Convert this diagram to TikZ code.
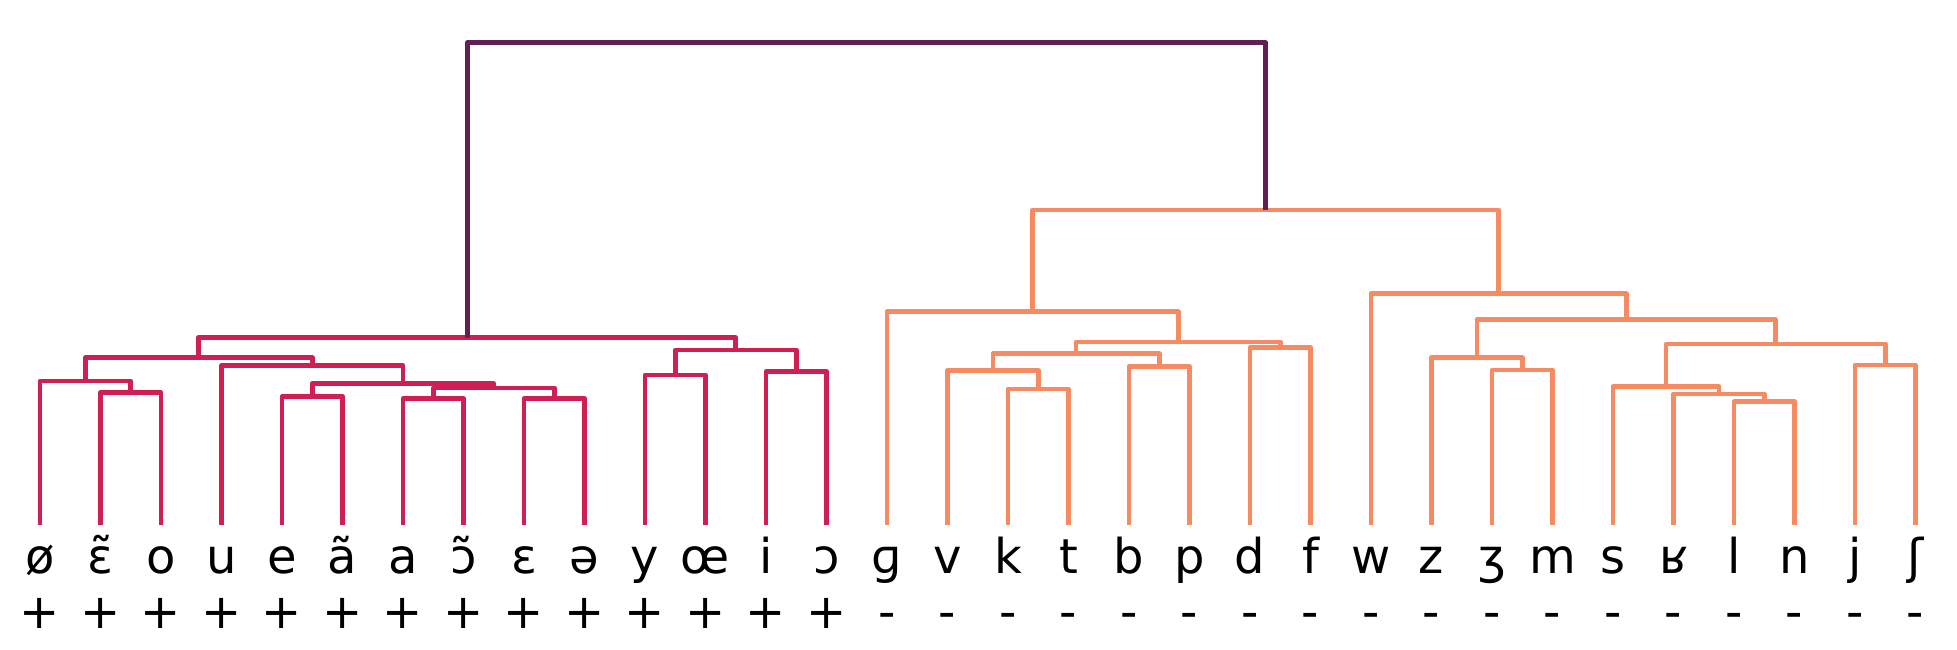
\documentclass[tikz,border=0pt]{standalone}
\usepackage{fontspec}
\setmainfont{DejaVu Sans}
\definecolor{rootpurple}{RGB}{98,31,84}
\definecolor{vowelred}{RGB}{208,31,84}
\definecolor{consorange}{RGB}{246,138,98}
\tikzset{
  phone/.style={anchor=base, inner sep=0pt, text height=48pt, font=\fontsize{48}{58}\selectfont},
  sign/.style={anchor=base, inner sep=0pt, font=\fontsize{48}{58}\selectfont},
  link/.style={line width=4.8pt, line join=round}
}
\begin{document}
\begin{tikzpicture}[x=1pt,y=-1pt]
      \useasboundingbox (0,0) rectangle (1957,649);
      \path
        (40,573) node[phone] (0){ø}
        (100.5,573) node[phone] (1){ɛ̃}
        (161,573) node[phone] (2){o}
        (221.5,573) node[phone] (3){u}
        (282,573) node[phone] (4){e}
        (342.5,573) node[phone] (5){ã}
        (403,573) node[phone] (6){a}
        (463.5,573) node[phone] (7){ɔ̃}
        (524,573) node[phone] (8){ɛ}
        (584.5,573) node[phone] (9){ə}
        (645,573) node[phone] (10){y}
        (705.5,573) node[phone] (11){œ}
        (766,573) node[phone] (12){i}
        (826.5,573) node[phone] (13){ɔ}
        (887,573) node[phone] (14){ɡ}
        (947.5,573) node[phone] (15){v}
        (1008,573) node[phone] (16){k}
        (1068.5,573) node[phone] (17){t}
        (1129,573) node[phone] (18){b}
        (1189.5,573) node[phone] (19){p}
        (1250,573) node[phone] (20){d}
        (1310.5,573) node[phone] (21){f}
        (1371,573) node[phone] (22){w}
        (1431.5,573) node[phone] (23){z}
        (1492,573) node[phone] (24){ʒ}
        (1552.5,573) node[phone] (25){m}
        (1613,573) node[phone] (26){s}
        (1673.5,573) node[phone] (27){ʁ}
        (1734,573) node[phone] (28){l}
        (1794.5,573) node[phone] (29){n}
        (1855,573) node[phone] (30){j}
        (1915.5,573) node[phone] (31){ʃ};
      \path
        (40,628) node[sign] (s0){+}
        (100.5,628) node[sign] (s1){+}
        (161,628) node[sign] (s2){+}
        (221.5,628) node[sign] (s3){+}
        (282,628) node[sign] (s4){+}
        (342.5,628) node[sign] (s5){+}
        (403,628) node[sign] (s6){+}
        (463.5,628) node[sign] (s7){+}
        (524,628) node[sign] (s8){+}
        (584.5,628) node[sign] (s9){+}
        (645,628) node[sign] (s10){+}
        (705.5,628) node[sign] (s11){+}
        (766,628) node[sign] (s12){+}
        (826.5,628) node[sign] (s13){+}
        (887,628) node[sign] (s14){-}
        (947.5,628) node[sign] (s15){-}
        (1008,628) node[sign] (s16){-}
        (1068.5,628) node[sign] (s17){-}
        (1129,628) node[sign] (s18){-}
        (1189.5,628) node[sign] (s19){-}
        (1250,628) node[sign] (s20){-}
        (1310.5,628) node[sign] (s21){-}
        (1371,628) node[sign] (s22){-}
        (1431.5,628) node[sign] (s23){-}
        (1492,628) node[sign] (s24){-}
        (1552.5,628) node[sign] (s25){-}
        (1613,628) node[sign] (s26){-}
        (1673.5,628) node[sign] (s27){-}
        (1734,628) node[sign] (s28){-}
        (1794.5,628) node[sign] (s29){-}
        (1855,628) node[sign] (s30){-}
        (1915.5,628) node[sign] (s31){-};
      \path
        (130.75,392.7) coordinate (a1)
        (85.4,381) coordinate (a2)
        (312.25,396.7) coordinate (a3)
        (433.25,398.7) coordinate (a4)
        (554.25,398.7) coordinate (a5)
        (493.75,388) coordinate (a6)
        (403,383.3) coordinate (a7)
        (312.25,365.7) coordinate (a8)
        (198.8,357.7) coordinate (a9)
        (675.25,375) coordinate (a10)
        (796.25,371.7) coordinate (a11)
        (735.75,350) coordinate (a12)
        (467.3,337.5) coordinate (a13)
        (1038.25,389) coordinate (b1)
        (992.9,370.5) coordinate (b2)
        (1159.25,366.7) coordinate (b3)
        (1076,353.7) coordinate (b4)
        (1280.25,347.7) coordinate (b5)
        (1178.1,342) coordinate (b6)
        (1032.6,311.7) coordinate (b7)
        (1522.25,370) coordinate (c1)
        (1476.9,357.7) coordinate (c2)
        (1764.25,401.7) coordinate (c3)
        (1718.9,394) coordinate (c4)
        (1666,386.7) coordinate (c5)
        (1885.25,365) coordinate (c6)
        (1775.6,344) coordinate (c7)
        (1626.2,319.5) coordinate (c8)
        (1498.6,293.7) coordinate (c9)
        (1265.6,210) coordinate (o)
        (866.5,42.7) coordinate (r);
      \begin{scope}[link, draw=vowelred]
        \draw (1.north) |- (a1) -| (2.north);
        \draw (0.north) |- (a2) -| (a1);
        \draw (4.north) |- (a3) -| (5.north);
        \draw (6.north) |- (a4) -| (7.north);
        \draw (8.north) |- (a5) -| (9.north);
        \draw (a4) |- (a6) -| (a5);
        \draw (a3) |- (a7) -| (a6);
        \draw (3.north) |- (a8) -| (a7);
        \draw (a2) |- (a9) -| (a8);
        \draw (10.north) |- (a10) -| (11.north);
        \draw (12.north) |- (a11) -| (13.north);
        \draw (a10) |- (a12) -| (a11);
        \draw (a9) |- (a13) -| (a12);
      \end{scope}
      \begin{scope}[link, draw=consorange]
        \draw (16.north) |- (b1) -| (17.north);
        \draw (15.north) |- (b2) -| (b1);
        \draw (18.north) |- (b3) -| (19.north);
        \draw (b2) |- (b4) -| (b3);
        \draw (20.north) |- (b5) -| (21.north);
        \draw (b4) |- (b6) -| (b5);
        \draw (14.north) |- (b7) -| (b6);
        \draw (24.north) |- (c1) -| (25.north);
        \draw (23.north) |- (c2) -| (c1);
        \draw (28.north) |- (c3) -| (29.north);
        \draw (27.north) |- (c4) -| (c3);
        \draw (26.north) |- (c5) -| (c4);
        \draw (30.north) |- (c6) -| (31.north);
        \draw (c5) |- (c7) -| (c6);
        \draw (c2) |- (c8) -| (c7);
        \draw (22.north) |- (c9) -| (c8);
        \draw (b7) |- (o) -| (c9);
      \end{scope}
      \draw[link, draw=rootpurple] (a13) |- (r) -| (o);
    \end{tikzpicture}
\end{document}
